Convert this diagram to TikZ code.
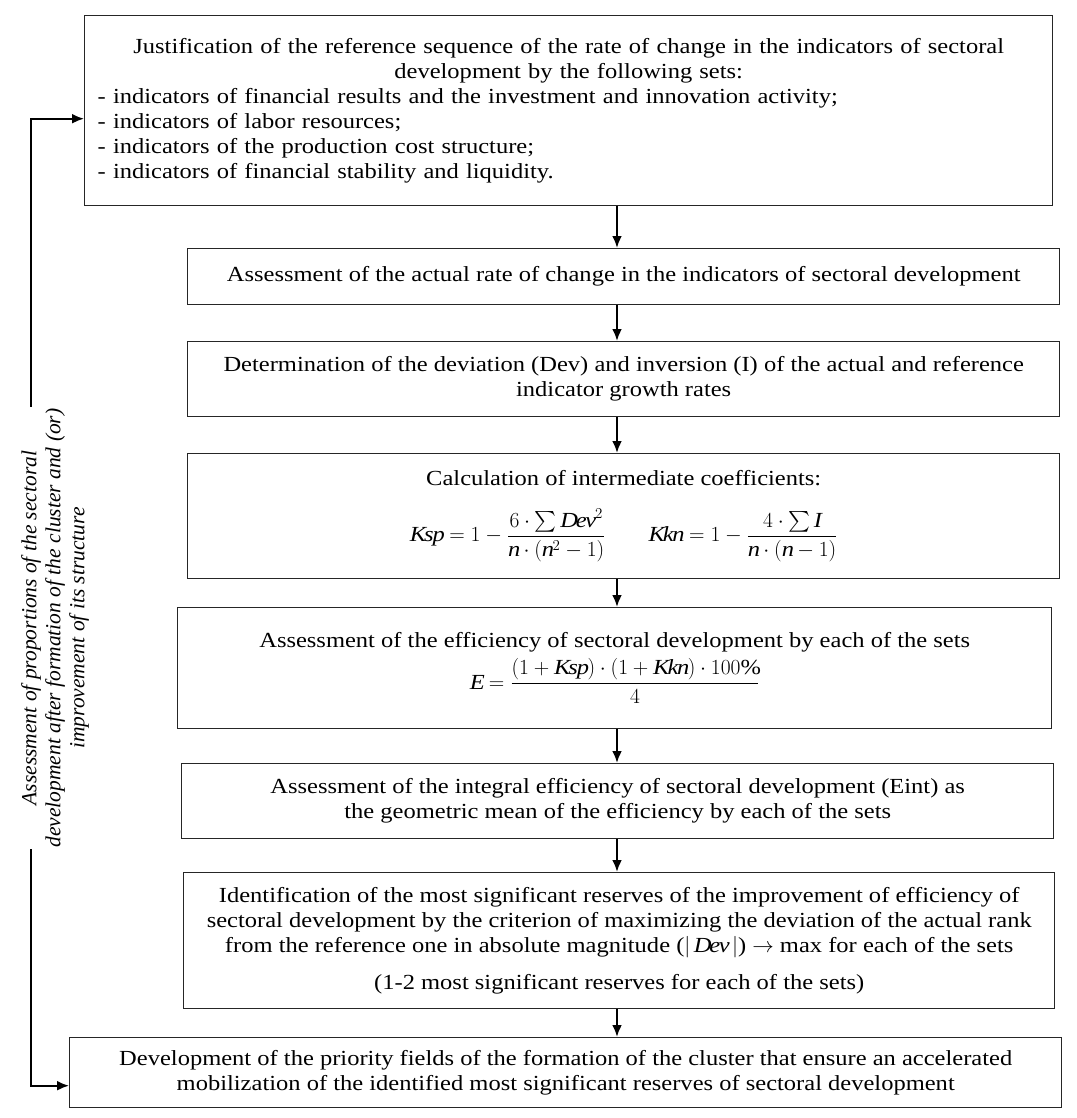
\RequirePackage{fix-cm}
\documentclass[tikz,border=0pt]{standalone}
\usepackage{amsmath}
\usepackage{fontspec}
\setmainfont{Liberation Serif}[FakeStretch=1.14]
\newfontfamily\sidefont{Liberation Serif}
\usetikzlibrary{arrows.meta}
\newcommand\mainfs{\fontsize{21.5}{25}\selectfont}
\newcommand\sidefs{\fontsize{21.5}{24}\selectfont}
\begin{document}
\begin{tikzpicture}[x=1pt,y=-1pt,
  box/.style={draw=black!85, line width=1.4pt, fill=white, inner sep=0pt,
    align=center, anchor=north west, font=\mainfs},
  flowarrow/.style={line width=2.6pt, -{Latex[length=12pt,width=10pt]}},
  fbarrow/.style={line width=2pt, {Latex[length=12pt,width=10pt]}-{Latex[length=12pt,width=10pt]}},
  sidelabel/.style={rotate=90, fill=white, inner sep=2pt, align=center, font=\sidefs\sidefont\itshape}]
\useasboundingbox[fill=white] (0,0) rectangle (1076,1118);

\node[box, minimum width=968, minimum height=190, text width=942, inner xsep=13, align=left] (b1) at (84,15)
{\makebox[942pt][c]{Justification of the reference sequence of the rate of change in the indicators of sectoral}\\
 \makebox[942pt][c]{development by the following sets:}\\
 - indicators of financial results and the investment and innovation activity;\\
 - indicators of labor resources;\\
 - indicators of the production cost structure;\\
 - indicators of financial stability and liquidity.};

\node[box, minimum width=872, minimum height=56] (b2) at (187,248)
{Assessment of the actual rate of change in the indicators of sectoral development};

\node[box, minimum width=872, minimum height=75] (b3) at (187,341)
{Determination of the deviation (Dev) and inversion (I) of the actual and reference\\
 indicator growth rates};

\node[box, minimum width=872, minimum height=125] (b4) at (187,453)
{Calculation of intermediate coefficients:\\[22pt]
 $\mathit{Ksp} = 1 - \dfrac{6\cdot\sum \mathit{Dev}^2}{\mathit{n}\cdot(\mathit{n}^2-1)}\qquad
  \mathit{Kkn} = 1 - \dfrac{4\cdot\sum \mathit{I}}{\mathit{n}\cdot(\mathit{n}-1)}$};

\node[box, minimum width=874, minimum height=121] (b5) at (177,607)
{Assessment of the efficiency of sectoral development by each of the sets\\[5pt]
 $\mathit{E} = \dfrac{(1+\mathit{Ksp})\cdot(1+\mathit{Kkn})\cdot 100\%}{4}$};

\node[box, minimum width=872, minimum height=75] (b6) at (181,763)
{Assessment of the integral efficiency of sectoral development (Eint) as\\
 the geometric mean of the efficiency by each of the sets};

\node[box, minimum width=871, minimum height=136] (b7) at (183,872)
{Identification of the most significant reserves of the improvement of efficiency of\\
 sectoral development by the criterion of maximizing the deviation of the actual rank\\
 from the reference one in absolute magnitude ($|\,\mathit{Dev}\,|$) $\rightarrow$ max for each of the sets\\[12pt]
 (1-2 most significant reserves for each of the sets)};

\node[box, minimum width=992, minimum height=70] (b8) at (69,1037)
{Development of the priority fields of the formation of the cluster that ensure an accelerated\\
 mobilization of the identified most significant reserves of sectoral development};

\coordinate (ax) at (617,0);
\draw[flowarrow] (b1.south -| ax) -- (b2.north -| ax);
\draw[flowarrow] (b2.south -| ax) -- (b3.north -| ax);
\draw[flowarrow] (b3.south -| ax) -- (b4.north -| ax);
\draw[flowarrow] (b4.south -| ax) -- (b5.north -| ax);
\draw[flowarrow] (b5.south -| ax) -- (b6.north -| ax);
\draw[flowarrow] (b6.south -| ax) -- (b7.north -| ax);
\draw[flowarrow] (b7.south -| ax) -- (b8.north -| ax);

\coordinate (fl) at (31,628);
\draw[fbarrow] ([yshift=-8pt]b1.west) -| (fl) |- ([yshift=-13pt]b8.west);

\node[sidelabel] (lbl) at (55,628)
{Assessment of proportions of the sectoral\\
 development after formation of the cluster and (or)\\
 improvement of its structure};
\end{tikzpicture}
\end{document}
